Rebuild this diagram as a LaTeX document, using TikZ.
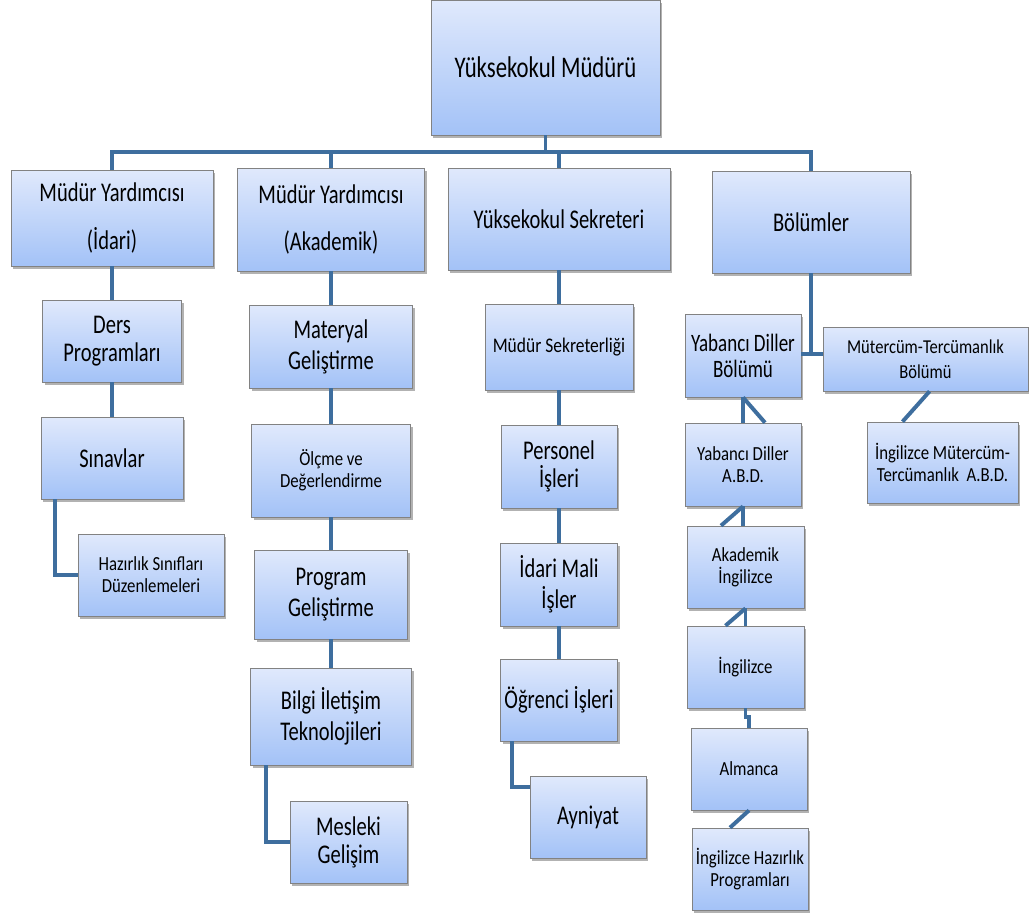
\documentclass[tikz,border=0pt]{standalone}
\usepackage{fontspec}
\setmainfont{Carlito}
\newfontfamily\bigfont{Carlito}[FakeStretch=0.76]
\newfontfamily\smallfont{Carlito}[FakeStretch=0.84]
\usepackage{tikz}
\usetikzlibrary{shadows}
\definecolor{boxtop}{RGB}{224,233,252}
\definecolor{boxbot}{RGB}{163,194,247}
\definecolor{boxline}{RGB}{130,130,130}
\definecolor{conline}{RGB}{62,110,158}

\begin{document}
\begin{tikzpicture} [x=0.025cm,y=-0.025cm,
    box/.style={rectangle, draw=boxline, line width=0.5pt, top color=boxtop,
      bottom color=boxbot, inner sep=0pt, align=center, text=black,
      drop shadow={shadow xshift=0.05cm, shadow yshift=-0.08cm, opacity=0.3, fill=black}},
    wh/.style 2 args={minimum width=#1*0.025cm, minimum height=#2*0.025cm},
    big/.style={font=\bigfont\fontsize{19.2}{20}\selectfont},
    head/.style={font=\bigfont\fontsize{19.2}{34}\selectfont},
    small/.style={font=\smallfont\fontsize{14.2}{15.5}\selectfont},
    con/.style={draw=conline, line width=2.8pt}
    ]
    \fill[white] (0,0) rectangle (1029,917);
    \useasboundingbox (0,0) rectangle (1029,917);

    \node (n1) [box, wh={229}{135}, font=\bigfont\fontsize{21.3}{24}\selectfont] at (545.5,67.5) {Yüksekokul Müdürü};

    \node (n2) [box, head, wh={202}{96}] at (112,218) {Müdür Yardımcısı\\(İdari)};
    \node (n3) [box, head, wh={187}{103}] at (331,219.5) {Müdür Yardımcısı\\(Akademik)};
    \node (n4) [box, big, wh={222}{102}] at (559,219) {Yüksekokul Sekreteri};
    \node (n5) [box, big, wh={198}{102}] at (811,222) {Bölümler};

    % idari
    \node (n6) [box, big, wh={139}{82}] at (112,341) {Ders\\Programları};
    \node (n7) [box, big, wh={142}{82}] at (112,458) {Sınavlar};
    \node (n8) [box, small, wh={146}{82}] at (151,575) {Hazırlık Sınıfları\\Düzenlemeleri};

    % akademik
    \node (n9) [box, big, wh={163}{83}, font=\bigfont\fontsize{19.2}{22}\selectfont] at (331,346.5) {Materyal\\Geliştirme};
    \node (n10) [box, small, wh={159}{93}] at (331,470.5) {Ölçme ve\\Değerlendirme};
    \node (n11) [box, big, wh={153}{89}, font=\bigfont\fontsize{19.2}{22}\selectfont] at (331,594.5) {Program\\Geliştirme};
    \node (n12) [box, big, wh={161}{97}, font=\bigfont\fontsize{19.2}{22}\selectfont] at (331,716.5) {Bilgi İletişim\\Teknolojileri};
    \node (n13) [box, big, wh={117}{82}] at (348.5,842) {Mesleki\\Gelişim};

    % sekreter
    \node (n14) [box, small, wh={148}{86}, font=\smallfont\fontsize{14.8}{16}\selectfont] at (559,347) {Müdür Sekreterliği};
    \node (n15) [box, big, wh={116}{83}, font=\bigfont\fontsize{19.2}{19.5}\selectfont] at (559,466.5) {Personel\\İşleri};
    \node (n16) [box, big, wh={117}{83}, font=\bigfont\fontsize{19.2}{22}\selectfont] at (559,584.5) {İdari Mali\\İşler};
    \node (n17) [box, big, wh={117}{82}] at (559,700) {Öğrenci İşleri};
    \node (n18) [box, big, wh={116}{82}] at (588,817) {Ayniyat};

    % bolumler
    \node (n19) [box, big, wh={116}{83}, font=\bigfont\fontsize{17.8}{18.5}\selectfont] at (743,355.5) {Yabancı Diller\\Bölümü};
    \node (n20) [box, small, wh={205}{64}, font=\smallfont\fontsize{14}{18}\selectfont] at (925.5,359) {Mütercüm-Tercümanlık\\Bölümü};
    \node (n21) [box, small, wh={151}{81}] at (942.5,462.5) {İngilizce Mütercüm-\\Tercümanlık\ \ A.B.D.};
    \node (n22) [box, small, wh={116}{83}] at (743,464.5) {Yabancı Diller\\A.B.D.};
    \node (n23) [box, small, wh={117}{82}] at (745.5,567) {Akademik\\İngilizce};
    \node (n24) [box, small, wh={117}{82}] at (745.5,667) {İngilizce};
    \node (n25) [box, small, wh={116}{82}] at (749,769) {Almanca};
    \node (n26) [box, small, wh={116}{82}] at (750,869) {İngilizce Hazırlık\\Programları};

    \coordinate (bus) at (545.5,152);
    \coordinate (j) at (811,354);

    \draw [con] (n1) -- (bus);
    \draw [con] (bus) -| (n2);
    \draw [con] (bus) -| (n3);
    \draw [con] (bus) -| (n4);
    \draw [con] (bus) -| (n5);

    \draw [con] (n2) -- (n6);
    \draw [con] (n6) -- (n7);
    \draw [con] ([xshift=0.35cm]n7.south west) |- (n8);

    \draw [con] (n3) -- (n9);
    \draw [con] (n9) -- (n10);
    \draw [con] (n10) -- (n11);
    \draw [con] (n11) -- (n12);
    \draw [con] ([xshift=0.4cm]n12.south west) |- (n13);

    \draw [con] (n4) -- (n14);
    \draw [con] (n14) -- (n15);
    \draw [con] (n15) -- (n16);
    \draw [con] (n16) -- (n17);
    \draw [con] ([xshift=0.3cm]n17.south west) |- ([yshift=-0.275cm]n18.north west);

    \draw [con] (n5) -- (j);
    \draw [con] (n19.east |- j) -- (n20.west |- j);
    \draw [con] (n20.south) ++(0.1cm,0) -- ([xshift=-1cm]n21.north);
    \draw [con] (n19.south) -- (n19.south |- n22.north);
    \draw [con] (n19.south) -- ([xshift=0.55cm]n19.south |- n22.north);
    \draw [con] (n22.south) -- (n22.south |- n23.north);
    \draw [con] (n22.south) -- ([xshift=-0.55cm]n22.south |- n23.north);
    \draw [con] (n23.south) -- (n24.north);
    \draw [con] (n23.south) -- ([xshift=-0.5cm]n24.north);
    \draw [con] (n24.south) -- ++(0,9) -| (n25.north);
    \draw [con] (n25.south) -- ([xshift=-0.5cm]n26.north);
  \end{tikzpicture}
\end{document}
